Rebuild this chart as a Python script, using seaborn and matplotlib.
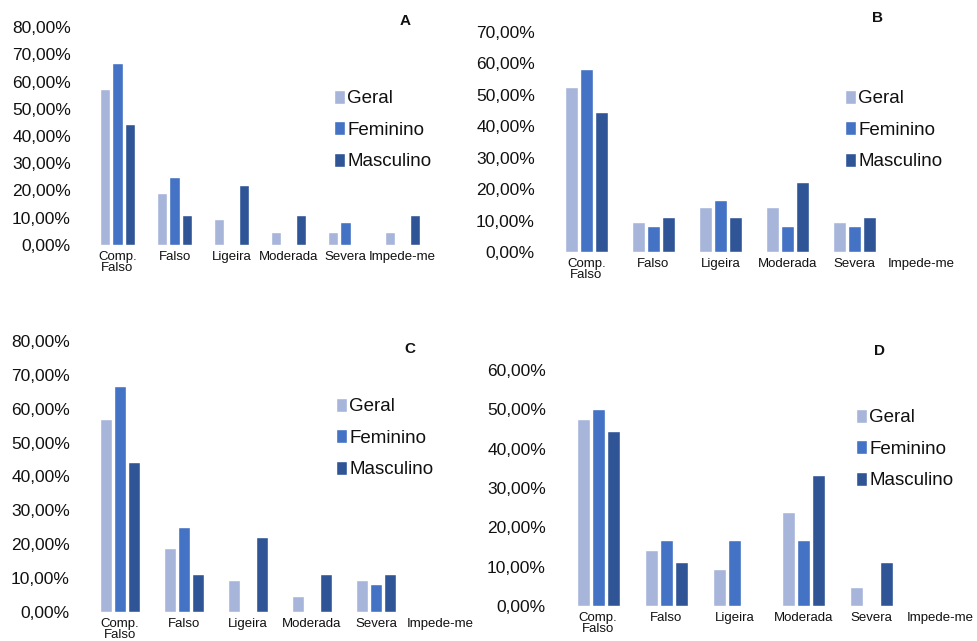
import numpy as np
import pandas as pd
import seaborn as sns
import matplotlib.pyplot as plt
from matplotlib.ticker import FuncFormatter, MultipleLocator

categories = ["Comp.\nFalso", "Falso", "Ligeira", "Moderada", "Severa", "Impede-me"]
series_names = ["Geral", "Feminino", "Masculino"]
colors = ["#A7B5DA", "#4472C4", "#2F5597"]

# values in %, one list per series and panel
a_geral = [57.1, 19.0, 9.5, 4.8, 4.8, 4.8]
a_fem = [66.7, 25.0, 0.0, 0.0, 8.3, 0.0]
a_masc = [44.4, 11.1, 22.2, 11.1, 0.0, 11.1]

b_geral = [52.4, 9.5, 14.3, 14.3, 9.5, 0.0]
b_fem = [58.3, 8.3, 16.7, 8.3, 8.3, 0.0]
b_masc = [44.4, 11.1, 11.1, 22.2, 11.1, 0.0]

c_geral = [57.1, 19.0, 9.5, 4.8, 9.5, 0.0]
c_fem = [66.7, 25.0, 0.0, 0.0, 8.3, 0.0]
c_masc = [44.4, 11.1, 22.2, 11.1, 11.1, 0.0]

d_geral = [47.6, 14.3, 9.5, 23.8, 4.8, 0.0]
d_fem = [50.0, 16.7, 16.7, 16.7, 0.0, 0.0]
d_masc = [44.4, 11.1, 0.0, 33.3, 11.1, 0.0]

panel_letters = ["A", "B", "C", "D"]
panel_ymax = [80, 70, 80, 60]

W, H = 978, 641

sns.set_style("white")
plt.rcParams['font.family'] = ['Liberation Sans', 'DejaVu Sans']

fig = plt.figure(figsize=(W / 100, H / 100), dpi=100)


def px_axes(left, bottom_y, width, height):
    # pixel box (top-left origin) -> figure fraction
    return fig.add_axes([left / W, (H - bottom_y) / H, width / W, height / H])


# layout of each panel in pixels: left, y of 0%, width, height of axis range
layouts = [
    (89, 245, 342, 218),
    (553, 252, 402, 220),
    (88, 612, 384, 271),
    (564, 606, 410, 236),
]
legend_pos = [(334, 90), (845, 90), (336, 398), (856, 409)]
letter_pos = [(405, 21), (878, 18), (410, 349), (880, 351)]

panels = [
    (a_geral, a_fem, a_masc),
    (b_geral, b_fem, b_masc),
    (c_geral, c_fem, c_masc),
    (d_geral, d_fem, d_masc),
]

fmt = FuncFormatter(lambda v, p: f"{v:.2f}".replace(".", ",") + "%")

for i, (vals, lay) in enumerate(zip(panels, layouts)):
    rows = []
    for name, series in zip(series_names, vals):
        for cat, v in zip(categories, series):
            rows.append({"cat": cat, "serie": name, "val": v})
    df = pd.DataFrame(rows)

    ax = px_axes(*lay)
    sns.barplot(data=df, x="cat", y="val", hue="serie", order=categories,
                hue_order=series_names, palette=colors, width=0.66, gap=0.13,
                saturation=1, errorbar=None, ax=ax)
    ax.set_xlim(-0.5, 5.5)
    ax.set_ylim(0, panel_ymax[i])
    ax.yaxis.set_major_locator(MultipleLocator(10))
    ax.yaxis.set_major_formatter(fmt)
    ax.set_xlabel("")
    ax.set_ylabel("")
    sns.despine(ax=ax, left=True, bottom=True)
    ax.tick_params(axis="y", length=0, pad=13, labelsize=12.5, labelcolor="#111111")
    ax.tick_params(axis="x", length=0, pad=4, labelsize=9.5, labelcolor="#111111")
    for lbl in ax.get_xticklabels():
        lbl.set_linespacing(0.95)

    lx, ly = legend_pos[i]
    ax.legend(loc="upper left", bbox_to_anchor=(lx / W, 1 - ly / H),
              bbox_transform=fig.transFigure, frameon=False, borderpad=0,
              borderaxespad=0, handlelength=0.6, handleheight=0.75,
              handletextpad=0.1, labelspacing=0.75, fontsize=13.5,
              labelcolor="#111111")

    tx, ty = letter_pos[i]
    fig.text(tx / W, 1 - ty / H, panel_letters[i], ha="center", va="center",
             fontsize=11, fontweight="bold", color="#111111")

fig.savefig("out.png", dpi=100)
